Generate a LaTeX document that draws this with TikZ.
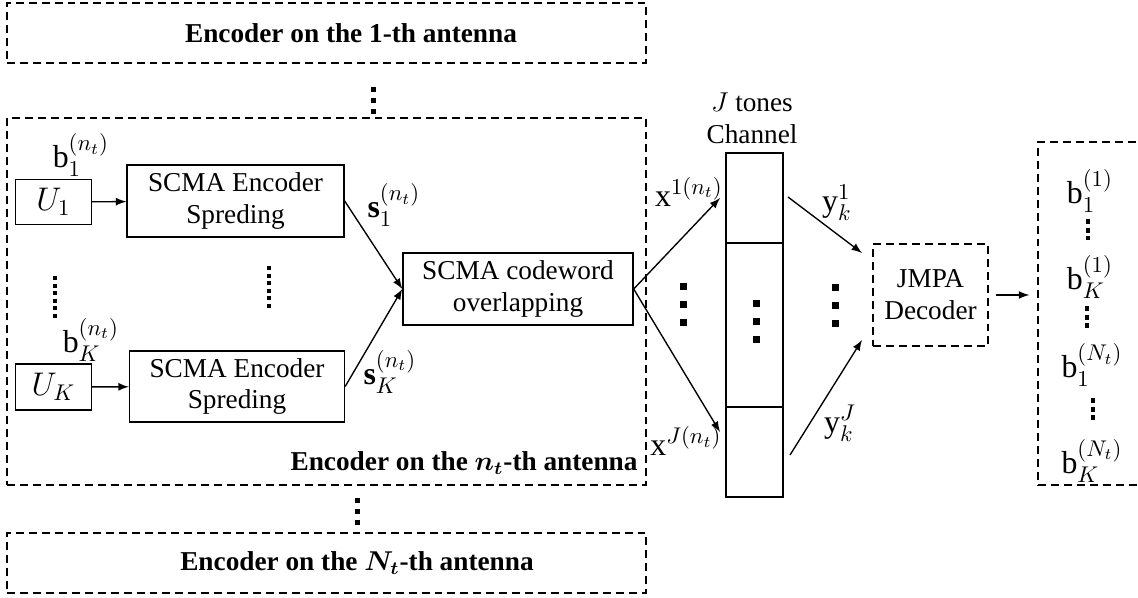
\documentclass[tikz,border=0pt]{standalone}
\usepackage{fontspec}
\setmainfont{Liberation Serif}
\usepackage{amsmath}

\tikzset{
  px/.style 2 args={minimum width=#1*0.44pt, minimum height=#2*0.44pt},
  solidbox/.style={draw, line width=0.6pt, inner sep=0pt, align=center},
  dashbox/.style={draw, dash pattern=on 3.5pt off 2.2pt, line width=0.6pt, inner sep=0pt, align=center},
  arr/.style={draw, line width=0.6pt, -latex},
  dotline/.style={line width=1.8pt, dash pattern=on 1.8pt off 1.5pt},
  dashdots/.style={line width=1.6pt, dash pattern=on 2.2pt off 1.6pt},
  title/.style={font=\bfseries, inner sep=0pt},
  lbl/.style={font=\fontsize{14pt}{16pt}\selectfont, inner sep=0pt},
}

\begin{document}
\begin{tikzpicture}[x=0.44pt, y=-0.44pt]
\fontsize{12pt}{14pt}\selectfont
\useasboundingbox (0,0) rectangle (1138,597);

% encoders of the other antennas
\node[dashbox, px={639}{60}] (ant1) at (326.5,33) {};
\node[title] (ant1txt) at (351,33) {Encoder on the 1-th antenna};
\node[dashbox, px={639}{60}] (antN) at (326.5,563) {};
\node[title] (antNtxt) at (357,563) {Encoder on the $\boldsymbol{N_t}$-th antenna};
\foreach \y in {89,100,111} \fill (371,\y-2) rectangle ++(4.5,4.5);
\foreach \y in {500,511,522} \fill (355,\y-2) rectangle ++(4.5,4.5);

% encoder on the n_t-th antenna
\node[dashbox, px={639}{367}] (antn) at (326.5,301.5) {};
\node[title, anchor=east] (antntxt) at (638,463) {Encoder on the $\boldsymbol{n_t}$-th antenna};

\node[solidbox, px={76}{45}, lbl] (u1) at (53.5,202) {$U_1$};
\node[solidbox, px={76}{46}, lbl] (uK) at (53.5,387) {$U_K$};
\node[solidbox, px={217}{72}] (enc1) at (235.5,201) {SCMA Encoder\\Spreding};
\node[solidbox, px={215}{71}] (encK) at (237,386.5) {SCMA Encoder\\Spreding};
\node[solidbox, px={230}{72}] (ovl) at (518,289) {SCMA codeword\\overlapping};

\node[lbl] (b1) at (81,155) {$\mathrm{b}_1^{(n_t)}$};
\node[lbl] (bK) at (91,340) {$\mathrm{b}_K^{(n_t)}$};
\node[lbl] (s1) at (394,205) {$\mathbf{s}_1^{(n_t)}$};
\node[lbl] (sK) at (390,372) {$\mathbf{s}_K^{(n_t)}$};

\path[arr] (u1) -- (enc1);
\path[arr] (uK) -- (encK);
\path[arr] (enc1.east) -- (ovl.west);
\path[arr] (encK.east) -- (ovl.west);

\draw[dotline] (55,276) -- (55,318);
\draw[dotline] (269,266) -- (269,308);

% channel
\node[solidbox, px={57}{90}] (ch1) at (754.5,198) {};
\node[solidbox, px={57}{164}] (chm) at (754.5,325) {};
\node[solidbox, px={57}{90}] (chJ) at (754.5,452) {};
\node[align=center, inner sep=0pt] (chtxt) at (752,118) {$J$ tones\\Channel};
\foreach \y in {286,304,322} \fill (680,\y-3.5) rectangle ++(7,7);
\foreach \y in {303,321,339} \fill (752.5,\y-3.5) rectangle ++(7,7);

\coordinate (x1end) at (720,198);
\coordinate (xJend) at (720,432);
\path[arr] (ovl.east) -- (x1end);
\path[arr] (ovl.east) -- (xJend);
\node[lbl] (x1) at (689,192) {$\mathrm{x}^{1(n_t)}$};
\node[lbl] (xJ) at (686,441) {$\mathrm{x}^{J(n_t)}$};

% decoder
\node[dashbox, px={115}{102}] (jmpa) at (930.5,295) {JMPA\\Decoder};
\coordinate (y1start) at (788,197);
\coordinate (y1end) at (862,253);
\coordinate (yJstart) at (790,455);
\coordinate (yJend) at (862,340);
\path[arr] (y1start) -- (y1end);
\path[arr] (yJstart) -- (yJend);
\node[lbl] (y1) at (837,203) {$\mathrm{y}_k^1$};
\node[lbl] (yJ) at (840,423) {$\mathrm{y}_k^J$};
\foreach \y in {287,305,323} \fill (831.5,\y-3.5) rectangle ++(7,7);

% decoded bits
\node[dashbox, px={130}{343}] (out) at (1103,313.5) {};
\path[arr, shorten <=7*0.44pt, shorten >=8*0.44pt] (jmpa.east) -- (out.west |- jmpa.east);
\node[lbl] (o1) at (1090,191) {$\mathrm{b}_1^{(1)}$};
\node[lbl] (o2) at (1090,277) {$\mathrm{b}_K^{(1)}$};
\node[lbl] (o3) at (1092,365) {$\mathrm{b}_1^{(N_t)}$};
\node[lbl] (o4) at (1092,461) {$\mathrm{b}_K^{(N_t)}$};
\draw[dashdots] (1088,219) -- (1088,240);
\draw[dashdots] (1087,306) -- (1087,329);
\draw[dashdots] (1093,398) -- (1093,421);
\end{tikzpicture}
\end{document}
